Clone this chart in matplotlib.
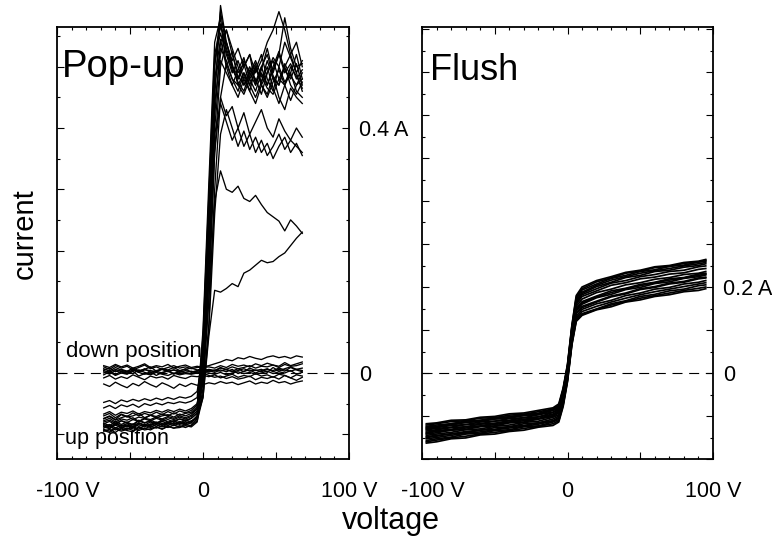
import matplotlib
matplotlib.use('Agg')
import matplotlib.pyplot as plt
import matplotlib.transforms as mtransforms
from matplotlib.ticker import MultipleLocator
import numpy as np

plt.rcParams['font.family'] = ['Liberation Sans', 'DejaVu Sans']

# ---- Data (currents in mA) ----
V_POP = [-68, -64, -60, -56, -52, -48, -44, -40, -36, -32, -28, -24, -20, -16, -12, -8, -4,
         0, 4, 8, 12, 16, 20, 24, 28, 32, 36, 40, 44, 48, 52, 56, 60, 64, 68]

# pop-up, "up position" sweeps
UP_CURVES = [
    [-74, -70, -76, -68, -72, -70, -66, -73, -69, -71, -67, -70, -65, -69, -66, -64, -55,
     60, 290, 520, 565, 540, 505, 470, 490, 460, 500, 475, 510, 480, 470, 505, 485, 470, 490],
    [-82, -86, -79, -84, -80, -85, -78, -82, -77, -81, -79, -76, -80, -75, -77, -74, -65,
     40, 260, 500, 590, 530, 500, 485, 470, 495, 480, 455, 490, 510, 480, 500, 470, 455, 475],
    [-90, -86, -93, -88, -91, -87, -92, -85, -89, -84, -88, -83, -86, -82, -85, -81, -72,
     -5, 170, 420, 540, 560, 520, 490, 505, 470, 495, 520, 480, 460, 500, 540, 515, 490, 460],
    [-95, -92, -97, -90, -94, -96, -89, -93, -91, -88, -92, -87, -90, -86, -89, -85, -75,
     -15, 150, 400, 510, 490, 470, 450, 480, 460, 440, 470, 455, 485, 450, 430, 465, 450, 440],
    [-78, -74, -80, -75, -77, -73, -79, -74, -76, -72, -75, -71, -74, -70, -73, -69, -58,
     70, 310, 540, 580, 500, 525, 480, 500, 520, 470, 495, 530, 490, 520, 580, 530, 500, 505],
    [-86, -90, -83, -87, -85, -89, -82, -86, -84, -80, -85, -81, -83, -79, -82, -78, -74,
     -35, 80, 300, 450, 505, 480, 460, 490, 470, 450, 475, 500, 465, 440, 470, 490, 460, 450],
    [-67, -63, -69, -64, -66, -62, -67, -63, -65, -61, -64, -60, -63, -59, -62, -58, -50,
     0, 160, 360, 450, 420, 435, 400, 425, 390, 410, 430, 400, 385, 415, 395, 380, 400, 385],
    [-92, -95, -89, -93, -90, -94, -88, -91, -87, -90, -86, -89, -85, -88, -84, -86, -78,
     -40, 70, 260, 390, 430, 400, 370, 395, 365, 385, 360, 375, 350, 370, 385, 360, 375, 355],
    [-70, -66, -73, -67, -71, -65, -70, -66, -69, -64, -68, -63, -67, -62, -65, -61, -52,
     20, 200, 390, 440, 410, 380, 400, 370, 390, 360, 380, 355, 370, 390, 365, 380, 370, 360],
    [-48, -45, -50, -44, -47, -43, -46, -42, -45, -41, -44, -40, -43, -39, -41, -38, -30,
     30, 220, 450, 600, 540, 510, 530, 500, 520, 490, 510, 540, 560, 590, 560, 520, 540, 500],
    [-57, -53, -58, -52, -55, -51, -56, -50, -53, -49, -52, -48, -50, -47, -49, -46, -40,
     50, 280, 510, 555, 520, 490, 510, 480, 500, 475, 500, 470, 495, 520, 490, 505, 480, 495],
    [-88, -91, -85, -89, -86, -90, -84, -88, -83, -87, -82, -86, -81, -84, -80, -82, -70,
     10, 230, 470, 530, 510, 480, 470, 455, 480, 500, 470, 450, 475, 495, 470, 445, 470, 480],
    [-80, -77, -82, -78, -81, -76, -79, -75, -78, -74, -77, -73, -76, -72, -75, -71, -62,
     -10, 120, 280, 330, 300, 295, 305, 285, 280, 290, 275, 262, 255, 248, 232, 250, 240, 228],
    [-84, -88, -82, -86, -83, -87, -81, -85, -80, -84, -79, -83, -78, -82, -77, -80, -72,
     -40, 60, 135, 132, 138, 146, 141, 163, 168, 176, 184, 180, 182, 190, 196, 208, 220, 230],
    [-83, -79, -85, -78, -82, -84, -77, -81, -79, -83, -76, -80, -78, -75, -79, -74, -66,
     25, 240, 480, 545, 500, 470, 495, 515, 480, 460, 490, 470, 500, 525, 495, 480, 505, 470],
    [-94, -97, -91, -95, -92, -89, -94, -90, -93, -88, -91, -87, -90, -89, -86, -88, -80,
     -25, 120, 360, 500, 540, 500, 475, 460, 490, 510, 485, 465, 455, 480, 470, 500, 485, 465],
    [-75, -71, -77, -73, -70, -76, -72, -74, -69, -73, -70, -68, -72, -67, -70, -66, -58,
     45, 270, 505, 570, 525, 495, 480, 510, 490, 470, 500, 520, 485, 470, 500, 520, 490, 510],
    [-87, -84, -90, -85, -88, -83, -87, -84, -86, -82, -85, -80, -84, -81, -83, -79, -70,
     5, 200, 440, 520, 560, 530, 500, 470, 485, 505, 470, 490, 515, 500, 475, 490, 520, 480],
]

# pop-up, "down position" sweeps
DOWN_CURVES = [
    [5, 8, 2, 6, 3, 7, 1, 5, 4, 2, 6, 3, 5, 1, 4, 2, 3,
     4, 2, 5, 3, 6, 2, 4, 7, 3, 5, 2, 6, 4, 8, 5, 3, 6, 4],
    [-3, 2, -4, 0, -2, 3, -5, -1, -3, 1, -2, -4, 0, -3, -1, -2, 0,
     1, 0, -2, 1, -3, 0, 2, -1, 1, -2, 0, 3, -1, 2, 0, 4, -2, 1],
    [10, 6, 12, 8, 11, 5, 9, 13, 7, 10, 6, 9, 12, 8, 10, 7, 9,
     10, 12, 15, 18, 22, 20, 25, 23, 27, 24, 22, 26, 28, 25, 27, 24, 28, 26],
    [-8, -4, -10, -6, -9, -3, -7, -11, -5, -8, -6, -10, -4, -7, -9, -5, -6,
     -4, -6, -3, -8, -5, -2, -7, -4, -6, -1, -5, -3, -7, -2, -4, -8, -3, -5],
    [-18, -22, -15, -20, -24, -17, -21, -14, -19, -23, -16, -20, -25, -18, -22, -17, -20,
     -19, -16, -18, -14, -17, -15, -19, -16, -13, -18, -15, -17, -12, -16, -14, -18, -15, -13],
    [2, -2, 4, 0, 3, -1, 5, 1, -2, 3, 0, 4, -1, 2, 1, 3, 0,
     2, 5, 3, 8, 6, 10, 7, 9, 12, 8, 11, 10, 13, 9, 14, 11, 12, 15],
    [7, 3, 9, 5, 2, 8, 4, 6, 10, 3, 7, 5, 9, 4, 6, 8, 5,
     7, 4, 1, 5, 2, 6, -1, 3, 5, 0, 4, 7, 2, 6, 3, 9, 5, 2],
    [0, 4, -3, 3, -1, 5, 1, -2, 2, -4, 1, 3, -2, 4, 0, -1, 2,
     0, -4, -7, -5, -9, -6, -10, -8, -5, -11, -7, -9, -6, -10, -4, -8, -12, -7],
    [12, 9, 14, 10, 13, 8, 11, 15, 9, 12, 10, 14, 8, 11, 13, 9, 11,
     9, 10, 8, 12, 9, 14, 11, 13, 10, 15, 12, 16, 13, 11, 17, 12, 15, 18],
    [4, 1, 6, 3, 0, 5, 2, 7, 1, 4, 6, 2, 5, 3, 7, 1, 4,
     3, 6, 4, 9, 5, 3, 7, 2, 8, 4, 6, 1, 9, 3, 7, 10, 6, 8],
]

V_FLUSH = [-97, -90, -80, -70, -60, -50, -40, -30, -20, -10, -6, -3, 0, 3, 6,
           10, 20, 30, 40, 50, 60, 70, 80, 90, 95]

FLUSH_CURVES = [
    [-118, -116, -110, -109, -103, -101, -95, -93, -87, -81, -72, -35, 20, 110, 180, 200, 215, 224, 234, 239, 247, 250, 257, 260, 264],
    [-124, -121, -118, -112, -110, -104, -102, -96, -94, -84, -77, -40, 15, 105, 172, 193, 207, 220, 227, 236, 240, 248, 251, 258, 260],
    [-130, -127, -122, -120, -114, -112, -106, -104, -97, -91, -82, -45, 10, 100, 165, 185, 201, 211, 222, 227, 236, 239, 246, 250, 254],
    [-128, -125, -121, -115, -113, -107, -105, -99, -97, -87, -80, -42, 12, 98, 160, 178, 191, 204, 210, 219, 223, 230, 233, 241, 243],
    [-135, -132, -127, -125, -119, -117, -111, -108, -102, -96, -87, -50, 5, 92, 155, 172, 187, 195, 205, 210, 218, 222, 229, 232, 236],
    [-138, -134, -131, -125, -123, -117, -114, -108, -106, -96, -90, -55, 0, 88, 150, 166, 179, 191, 197, 206, 211, 219, 222, 230, 232],
    [-142, -139, -133, -131, -125, -123, -116, -114, -107, -101, -93, -58, -3, 85, 145, 160, 175, 183, 194, 199, 208, 212, 220, 224, 228],
    [-145, -142, -138, -132, -130, -124, -121, -115, -112, -103, -97, -62, -8, 80, 140, 155, 167, 179, 186, 196, 201, 209, 213, 221, 223],
    [-150, -147, -141, -139, -133, -131, -125, -122, -116, -111, -103, -68, -12, 75, 132, 148, 161, 169, 180, 186, 195, 199, 207, 211, 215],
    [-157, -153, -149, -142, -140, -134, -132, -125, -123, -114, -108, -72, -15, 70, 125, 138, 149, 161, 168, 178, 183, 191, 195, 203, 205],
    [-163, -160, -153, -151, -144, -142, -136, -133, -126, -122, -114, -78, -20, 65, 120, 134, 147, 154, 165, 170, 178, 182, 189, 192, 196],
    [-148, -145, -142, -136, -133, -127, -125, -118, -116, -107, -100, -65, -10, 78, 138, 152, 165, 177, 184, 194, 199, 207, 211, 219, 221],
    [-121, -118, -113, -111, -105, -104, -98, -96, -90, -84, -75, -38, 18, 108, 176, 196, 212, 221, 232, 237, 245, 248, 255, 258, 262],
    [-132, -129, -126, -120, -118, -112, -110, -104, -102, -92, -85, -48, 8, 95, 162, 182, 196, 209, 215, 224, 229, 236, 239, 247, 249],
    [-126, -124, -118, -115, -110, -107, -102, -99, -94, -86, -79, -41, 14, 102, 168, 188, 204, 216, 224, 232, 238, 243, 249, 254, 257],
    [-140, -136, -133, -128, -124, -120, -115, -111, -107, -99, -92, -56, -1, 86, 147, 163, 177, 187, 196, 203, 210, 216, 221, 227, 230],
    [-153, -150, -145, -140, -137, -132, -128, -124, -119, -112, -105, -70, -13, 72, 128, 143, 155, 165, 174, 182, 189, 195, 201, 207, 210],
    [-160, -156, -151, -147, -142, -138, -134, -129, -124, -118, -111, -75, -18, 67, 122, 136, 148, 158, 166, 174, 180, 186, 192, 197, 200],
]

X_TICKS = [-100, -50, 0, 50, 100]
X_TICK_LABELS = ['-100 V', '', '0', '', '100 V']
POP_Y_TICKS = [-0.1, 0.0, 0.1, 0.2, 0.3, 0.4, 0.5]
POP_Y_LABELS = ['', '0', '', '', '', '0.4 A', '']
FLUSH_Y_TICKS = [-0.2, -0.1, 0.0, 0.1, 0.2, 0.3, 0.4, 0.5, 0.6, 0.7, 0.8]
FLUSH_Y_LABELS = ['', '', '0', '', '0.2 A', '', '', '', '', '', '']

# ---- Layout ----
W, H = 772, 543
fig = plt.figure(figsize=(W / 100, H / 100), dpi=100)
axP = fig.add_axes([57 / W, (H - 459) / H, 292 / W, 432 / H])
axF = fig.add_axes([422 / W, (H - 459) / H, 291 / W, 432 / H])

TICK_FS = 15.5
shift_right = mtransforms.ScaledTranslation(11 / 100, 0, fig.dpi_scale_trans)

for ax in (axP, axF):
    ax.axhline(0, color='k', lw=0.8, dashes=[9, 6], zorder=1)
    ax.set_xlim(-100, 100)
    ax.set_xticks(X_TICKS)
    ax.set_xticklabels(X_TICK_LABELS, fontsize=TICK_FS)
    ax.xaxis.set_minor_locator(MultipleLocator(10))
    ax.yaxis.set_minor_locator(MultipleLocator(0.05))
    ax.tick_params(which='both', direction='in', top=True, right=True,
                   labelleft=False, labelright=True, width=0.8)
    ax.tick_params(which='major', length=5)
    ax.tick_params(which='minor', length=2.5)
    ax.tick_params(axis='x', pad=16)
    ax.tick_params(axis='y', pad=7, labelsize=TICK_FS)
    for sp in ax.spines.values():
        sp.set_linewidth(1.3)

# Pop-up panel
for cur in UP_CURVES + DOWN_CURVES:
    axP.plot(V_POP, np.array(cur) / 1000, color='k', lw=0.95, clip_on=False, zorder=2)
axP.set_ylim(-86 / 612.5, 346 / 612.5)
axP.set_yticks(POP_Y_TICKS)
axP.set_yticklabels(POP_Y_LABELS)
axP.text(0.017, 0.884, 'Pop-up', transform=axP.transAxes, fontsize=27.5, va='baseline')
axP.text(0.032, 0.236, 'down position', transform=axP.transAxes, fontsize=16, va='baseline')
axP.text(0.027, 0.035, 'up position', transform=axP.transAxes, fontsize=15.5, va='baseline')

# Flush panel
for cur in FLUSH_CURVES:
    axF.plot(V_FLUSH, np.array(cur) / 1000, color='k', lw=1.25, zorder=2)
axF.set_ylim(-86 / 430, 346 / 430)
axF.set_yticks(FLUSH_Y_TICKS)
axF.set_yticklabels(FLUSH_Y_LABELS)
axF.text(0.028, 0.877, 'Flush', transform=axF.transAxes, fontsize=26, va='baseline')

# "-100 V" sits a little right of its tick in the original
for ax in (axP, axF):
    lab = ax.get_xticklabels()[0]
    lab.set_transform(lab.get_transform() + shift_right)

fig.text(25 / W, (H - 234) / H, 'current', rotation=90, fontsize=21,
         ha='center', va='center')
fig.text(391 / W, (H - 521) / H, 'voltage', fontsize=22, ha='center', va='center')

fig.savefig('out.png', dpi=100, facecolor='white')
